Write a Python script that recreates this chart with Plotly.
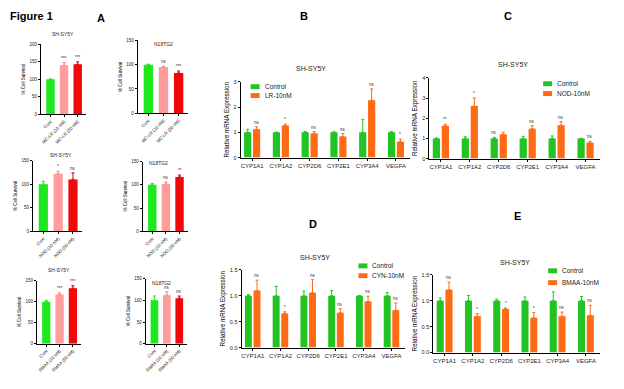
import plotly.graph_objects as go

W, H = 624, 389
FONT = "Liberation Sans, Arial, sans-serif"

# ---------------- DATA ----------------
cats_mclr = ["Cont", "MC-LR (10 nM)", "MC-LR (50 nM)"]
cats_nod = ["Cont", "NOD (10 nM)", "NOD (50 nM)"]
cats_bmaa = ["Cont", "BMAA (10 nM)", "BMAA (50 nM)"]

a1_vals = [100, 140, 143]; a1_err = [1, 8, 7]; a1_sig = ["", "***", "***"]
a2_vals = [100, 95, 83];   a2_err = [1, 2, 4]; a2_sig = ["", "ns", "***"]
a3_vals = [100, 122, 110]; a3_err = [6, 5, 14]; a3_sig = ["", "*", "ns"]
a4_vals = [100, 102, 117]; a4_err = [3, 4, 4]; a4_sig = ["", "ns", "**"]
a5_vals = [100, 117, 132]; a5_err = [3, 4, 6]; a5_sig = ["", "***", "***"]
a6_vals = [100, 112, 105]; a6_err = [10, 8, 5]; a6_sig = ["", "ns", "ns"]

genes = ["CYP1A1", "CYP1A2", "CYP2D6", "CYP2E1", "CYP3A4", "VEGFA"]

b_ctrl = [1, 1, 1, 1, 1, 1]
b_ctrl_err = [0.12, 0.0, 0.03, 0.02, 0.5, 0.03]
b_trt = [1.12, 1.27, 0.95, 0.83, 2.27, 0.63]
b_trt_err = [0.1, 0.06, 0.08, 0.12, 0.45, 0.1]
b_sig = ["ns", "*", "ns", "ns", "ns", "*"]
b_ctrl_sig = ["", "", "", "", "", ""]

c_ctrl = [1, 1, 1, 1, 1, 1]
c_ctrl_err = [0.02, 0.08, 0.05, 0.1, 0.12, 0.0]
c_trt = [1.62, 2.6, 1.2, 1.48, 1.65, 0.78]
c_trt_err = [0.08, 0.4, 0.1, 0.15, 0.18, 0.07]
c_sig = ["**", "*", "", "ns", "ns", "ns"]
c_ctrl_sig = ["", "", "ns", "", "", ""]

d_ctrl = [1, 1, 1, 1, 1, 1]
d_ctrl_err = [0.02, 0.18, 0.09, 0.1, 0.0, 0.06]
d_trt = [1.1, 0.66, 1.06, 0.67, 0.89, 0.72]
d_trt_err = [0.2, 0.03, 0.25, 0.08, 0.1, 0.14]
d_sig = ["ns", "*", "ns", "ns", "ns", "ns"]
d_ctrl_sig = ["", "", "", "", "", ""]

e_ctrl = [1, 1, 1, 1, 1, 1]
e_ctrl_err = [0.05, 0.1, 0.03, 0.07, 0.17, 0.08]
e_trt = [1.21, 0.7, 0.84, 0.67, 0.7, 0.72]
e_trt_err = [0.15, 0.05, 0.02, 0.1, 0.08, 0.19]
e_sig = ["ns", "*", "*", "*", "ns", "ns"]
e_ctrl_sig = ["", "", "", "", "", ""]

# ---------------- STYLE / LAYOUT ----------------
A_COLORS = ["#1ee81e", "#ff9c9c", "#ee0a0a"]
A_ERR_COLORS = ["#1ee81e", "#f08080", "#d00000"]
GREEN = "#22c322"
ORANGE = "#ff6a14"


def fx(p):
    return p / W


def fy(p):
    return 1 - p / H


def axis_common(fs):
    return dict(showline=True, linecolor="black", linewidth=1, ticks="outside",
                ticklen=2, tickwidth=1, tickcolor="black", showgrid=False,
                zeroline=False, tickfont=dict(size=fs, family=FONT, color="#222"),
                fixedrange=True)


def ptext(x, y, text, size, xanchor="center", color="#222"):
    return dict(x=fx(x), y=fy(y), xref="paper", yref="paper", text=text,
                showarrow=False, xanchor=xanchor, yanchor="middle",
                font=dict(size=size, color=color))


fig = go.Figure()
layout = dict(width=W, height=H, margin=dict(l=0, r=0, t=0, b=0),
              paper_bgcolor="white", plot_bgcolor="white", barmode="overlay",
              showlegend=False, font=dict(family=FONT, color="black"))
annotations = []
shapes = []

A_panels = [
    (cats_mclr, a1_vals, a1_err, a1_sig, 200, 50, "SH-SY5Y", (40, 85, 42, 113), (62, 31)),
    (cats_mclr, a2_vals, a2_err, a2_sig, 150, 50, "N18TG2", (137, 187, 38, 112), (163, 42)),
    (cats_nod, a3_vals, a3_err, a3_sig, 150, 50, "SH-SY5Y", (32, 81, 160, 232), (60, 154)),
    (cats_nod, a4_vals, a4_err, a4_sig, 150, 50, "N18TG2", (142, 187, 161, 232), (158, 162)),
    (cats_bmaa, a5_vals, a5_err, a5_sig, 150, 50, "SH-SY5Y", (36, 80, 282, 346), (58, 271)),
    (cats_bmaa, a6_vals, a6_err, a6_sig, 150, 50, "N18TG2", (145, 186, 280, 346), (161, 284)),
]

k = 0
for cats, vals, err, sig, ymax, dt, title, (x0, x1, yt, yb), (tx, ty) in A_panels:
    k += 1
    xa = "x" if k == 1 else f"x{k}"
    ya = "y" if k == 1 else f"y{k}"
    for i in range(3):
        fig.add_trace(go.Bar(
            x=[cats[i]], y=[vals[i]], width=0.62, xaxis=xa, yaxis=ya,
            marker=dict(color=A_COLORS[i], line=dict(width=0)),
            error_y=dict(type="data", array=[err[i]], arrayminus=[0], symmetric=False,
                         color=A_ERR_COLORS[i], thickness=1, width=1.5),
            hoverinfo="skip"))
        if sig[i]:
            annotations.append(dict(x=i, y=vals[i] + err[i], xref=xa, yref=ya,
                                    text=sig[i], showarrow=False, xanchor="center",
                                    yanchor="bottom",
                                    font=dict(size=4.5, color="#333")))
    xd = axis_common(4.5)
    xd.update(domain=[fx(x0), fx(x1)], anchor=ya, type="category",
              categoryorder="array", categoryarray=cats, range=[-0.7, 2.6],
              tickangle=-45)
    yd = axis_common(4.5)
    yd.update(domain=[fy(yb), fy(yt)], anchor=xa, range=[0, ymax], dtick=dt,
              title=dict(text="% Cell Survival", font=dict(size=4.5), standoff=3))
    layout["xaxis" if k == 1 else f"xaxis{k}"] = xd
    layout["yaxis" if k == 1 else f"yaxis{k}"] = yd
    annotations.append(ptext(tx, ty, title, 5))

G_panels = [
    (b_ctrl, b_ctrl_err, b_trt, b_trt_err, b_sig, b_ctrl_sig, "LR-10nM", 3, 1, None,
     (240, 410, 80, 157), (310, 67), (250, 85, 94, 262)),
    (c_ctrl, c_ctrl_err, c_trt, c_trt_err, c_sig, c_ctrl_sig, "NOD-10nM", 4, 1, None,
     (429, 600, 76, 158), (513, 62), (543, 82, 92, 555)),
    (d_ctrl, d_ctrl_err, d_trt, d_trt_err, d_sig, d_ctrl_sig, "CYN-10nM", 1.5, 0.5, ".1f",
     (241, 405, 271, 350), (315, 258), (358, 267, 277, 370)),
    (e_ctrl, e_ctrl_err, e_trt, e_trt_err, e_sig, e_ctrl_sig, "BMAA-10nM", 1.5, 0.5, ".1f",
     (433, 600, 276, 355), (515, 264), (548, 272, 284, 560)),
]

OFF_C, OFF_T, BW = -0.28, 0.03, 0.25
for (ctrl, cerr, trt, terr, sig, csig, tname, ymax, dt, tf,
     (x0, x1, yt, yb), (tx, ty), (lx, ly1, ly2, ltx)) in G_panels:
    k += 1
    xa, ya = f"x{k}", f"y{k}"
    fig.add_trace(go.Bar(
        x=genes, y=ctrl, name="Control", offset=OFF_C, width=BW, xaxis=xa, yaxis=ya,
        marker=dict(color=GREEN, line=dict(width=0)),
        error_y=dict(type="data", array=cerr, arrayminus=[0] * 6, symmetric=False,
                     color=GREEN, thickness=1, width=1.5), hoverinfo="skip"))
    fig.add_trace(go.Bar(
        x=genes, y=trt, name=tname, offset=OFF_T, width=BW, xaxis=xa, yaxis=ya,
        marker=dict(color=ORANGE, line=dict(width=0)),
        error_y=dict(type="data", array=terr, arrayminus=[0] * 6, symmetric=False,
                     color=ORANGE, thickness=1, width=1.5), hoverinfo="skip"))
    for i in range(6):
        if sig[i]:
            annotations.append(dict(x=i + OFF_T + BW / 2, y=trt[i] + terr[i], xref=xa, yref=ya,
                                    text=sig[i], showarrow=False, xanchor="center",
                                    yanchor="bottom", font=dict(size=4.5, color="#333")))
        if csig[i]:
            annotations.append(dict(x=i + OFF_C + BW / 2, y=ctrl[i] + cerr[i], xref=xa, yref=ya,
                                    text=csig[i], showarrow=False, xanchor="center",
                                    yanchor="bottom", font=dict(size=4.5, color="#333")))
    xd = axis_common(6)
    xd.update(domain=[fx(x0), fx(x1)], anchor=ya, type="category",
              range=[-0.4, 5.5], tickangle=0)
    yd = axis_common(5.5)
    yd.update(domain=[fy(yb), fy(yt)], anchor=xa, range=[0, ymax], dtick=dt,
              title=dict(text="Relative mRNA Expression", font=dict(size=6.3), standoff=3))
    if tf:
        yd["tickformat"] = tf
    layout[f"xaxis{k}"] = xd
    layout[f"yaxis{k}"] = yd
    annotations.append(ptext(tx, ty, "SH-SY5Y", 7))
    # legend
    for ly, col, name in [(ly1, GREEN, "Control"), (ly2, ORANGE, tname)]:
        shapes.append(dict(type="rect", xref="paper", yref="paper",
                           x0=fx(lx), x1=fx(lx + 9), y0=fy(ly + 2.5), y1=fy(ly - 2.5),
                           fillcolor=col, line=dict(width=0)))
        annotations.append(ptext(ltx, ly, name, 6.5, xanchor="left"))

# figure and panel labels
annotations.append(ptext(7, 13, "<b>Figure 1</b>", 11, xanchor="left", color="black"))
for lab, px, py in [("A", 100, 15), ("B", 303, 13), ("C", 508, 13), ("D", 313, 224), ("E", 517, 216)]:
    annotations.append(ptext(px, py, f"<b>{lab}</b>", 11, color="black"))

layout["annotations"] = annotations
layout["shapes"] = shapes
fig.update_layout(**layout)
fig.write_html("out.html", config={"displayModeBar": False},
               post_script="document.body.style.margin='0';document.body.style.overflow='hidden';")
